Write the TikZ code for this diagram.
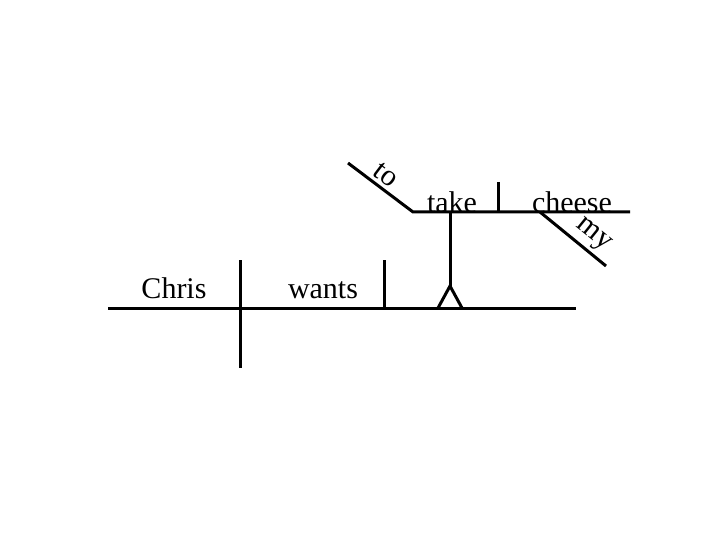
\documentclass[tikz,border=0pt]{standalone}
\usepackage{fontspec}
\setmainfont{Liberation Serif}
\usepackage{tikz}
\usetikzlibrary{positioning}

\tikzset{
  diag/.style={line width=3pt, black},
  word/.style={font=\fontsize{30}{34}\selectfont, inner sep=0pt, anchor=base},
}

\begin{document}
\begin{tikzpicture}[x=1pt, y=-1pt]
		\useasboundingbox (0,0) rectangle (720,540);

		% Key points
		\coordinate (baseL) at (108,308);
		\coordinate (baseR) at (576,308);
		\coordinate (subjT) at (240,260);
		\coordinate (subjB) at (240,368);
		\coordinate (verbT) at (384,260);
		\coordinate (verbB) at (384,308);
		\coordinate (stiltTop) at (450,213);
		\coordinate (stiltApex) at (450,286);
		\coordinate (stiltL) at (438,308);
		\coordinate (stiltR) at (462,308);
		\coordinate (toTop) at (348,163);
		\coordinate (upperL) at (413,212);
		\coordinate (upperR) at (630,212);
		\coordinate (objT) at (498,182);
		\coordinate (objB) at (498,212);
		\coordinate (myTop) at (540,212);
		\coordinate (myBot) at (606,266);

		% Main line and dividers
		\draw[diag] (baseL) -- (baseR);
		\draw[diag] (subjT) -- (subjB);
		\draw[diag] (verbT) -- (verbB);

		% Stilt for the infinitive phrase
		\draw[diag] (stiltTop) -- (stiltApex);
		\draw[diag] (stiltL) -- (stiltApex) -- (stiltR);

		% Infinitive line
		\draw[diag] (toTop) -- (upperL) -- (upperR);
		\draw[diag] (objT) -- (objB);
		\draw[diag] (myTop) -- (myBot);

		% Words
		\node[word] (chris) at (174,298) {Chris};
		\node[word] (wants) at (323,298) {wants};
		\node[word] (take) at (452,212) {take};
		\node[word] (cheese) at (572,212) {cheese};
		\node[word, anchor=center, rotate=-37] (to) at (386,175) {to};
		\node[word, anchor=center, rotate=-39] (my) at (593,236) {my};
	\end{tikzpicture}
\end{document}
